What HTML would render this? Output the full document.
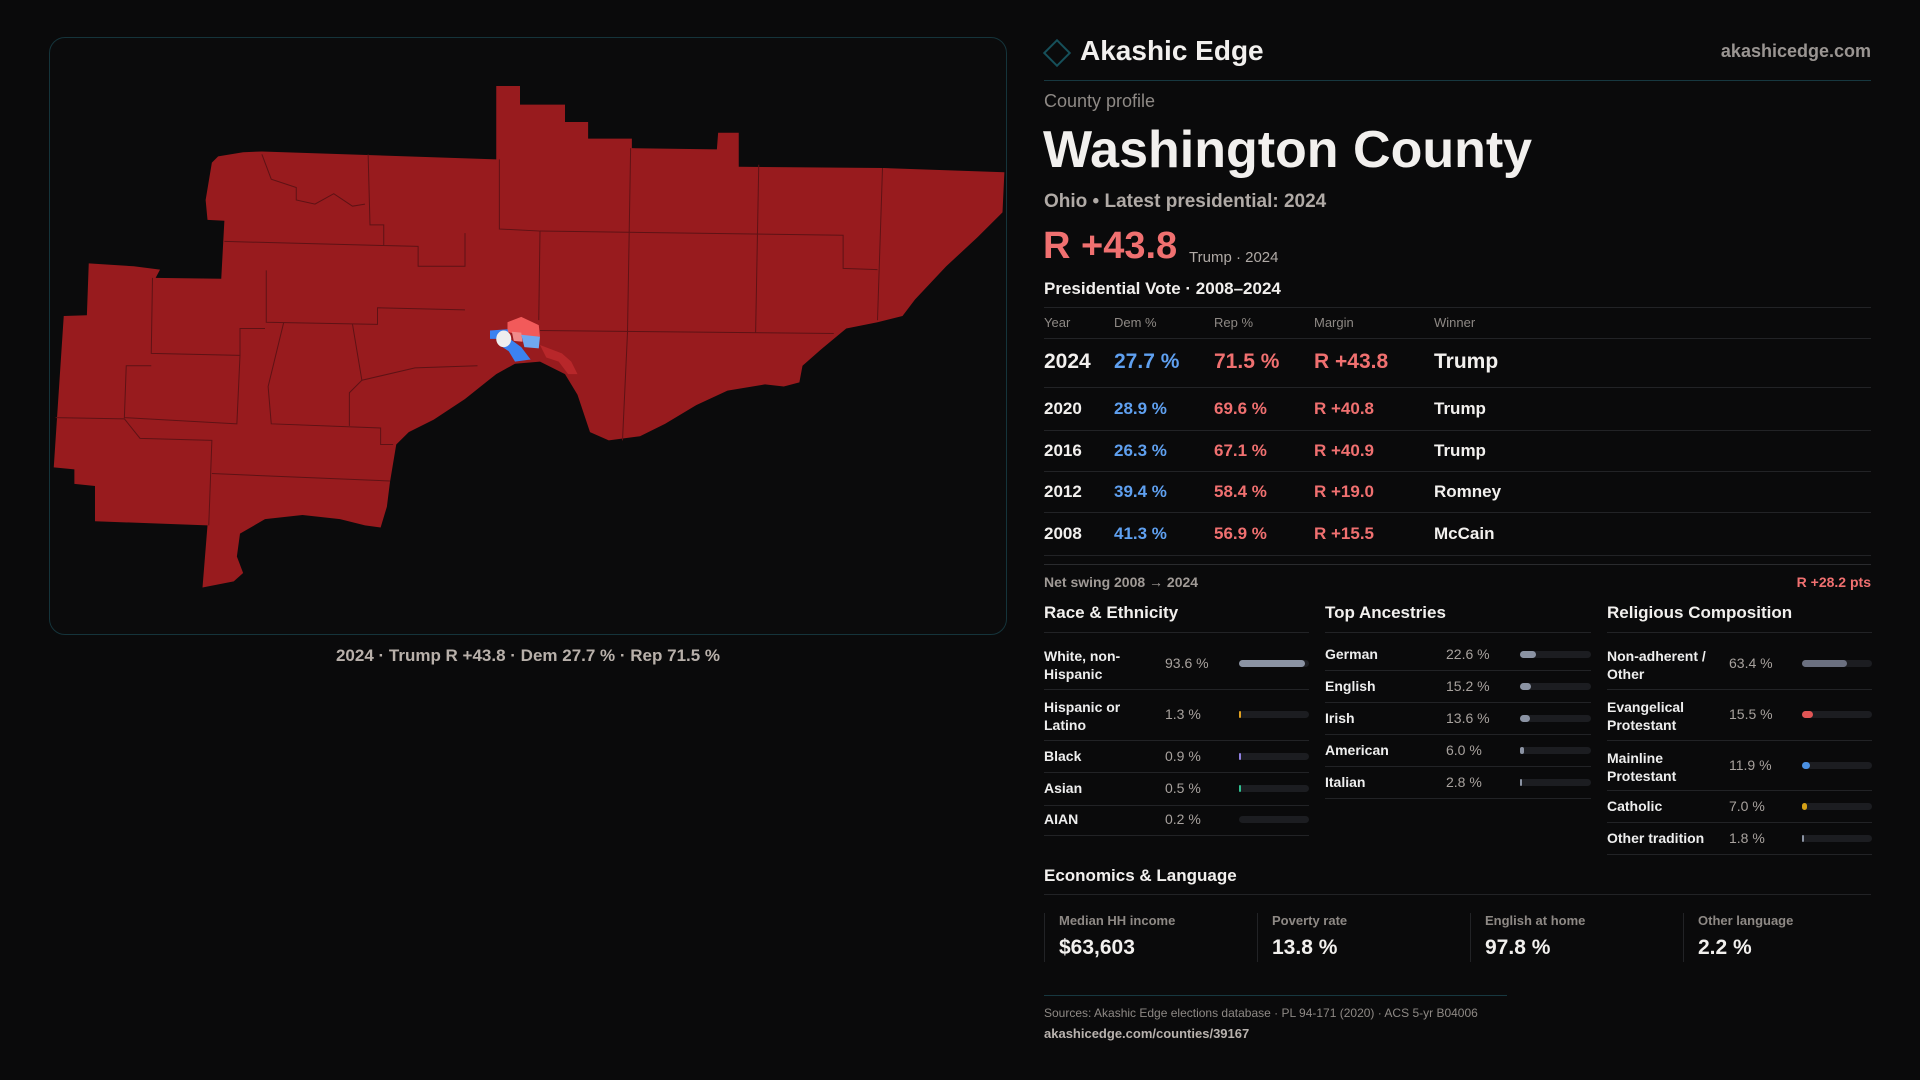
<!DOCTYPE html>
<html><head><meta charset="utf-8"><style>
*{margin:0;padding:0;box-sizing:border-box}
body{width:1920px;height:1080px;background:#0a0a0b;font-family:"Liberation Sans",sans-serif;color:#f2f0ee;position:relative;overflow:hidden}
.a{position:absolute;white-space:nowrap;line-height:1}
.ln{position:absolute;height:1px;background:#222326}
.g{color:#8e8985}
.b{color:#5fa0f0}.r{color:#f07070}
.bar{position:absolute;height:7px;border-radius:4px;background:#1c1d21}
.bar i{position:absolute;left:0;top:0;height:7px;border-radius:4px;display:block}
.lbl{font-size:14px;font-weight:bold;color:#eeeeee}
.val{font-size:14px;color:#a8a29e}
</style></head><body>
<div style="position:absolute;left:49px;top:37px;width:958px;height:598px;border:1px solid #15343b;border-radius:16px;background:#0b0b0c"></div>
<svg style="position:absolute;left:40px;top:30px" width="980" height="650" viewBox="0 0 1568 1568" preserveAspectRatio="none">
<path fill="#981b1e" d="M285,305 L325,295 L355,293 L730,312 L730,135 L768,135 L768,180 L840,180 L840,222 L877,222 L877,262 L947,262 L947,285 L1083,288 L1085,248 L1118,248 L1118,330 L1350,333 L1543,343 L1540,440 L1500,500 L1450,570 L1400,650 L1380,690 L1340,705 L1290,720 L1250,770 L1220,810 L1215,850 L1190,860 L1160,855 L1100,870 L1050,905 L1000,950 L960,980 L910,990 L880,970 L860,880 L840,830 L800,800 L760,805 L730,830 L680,890 L630,940 L590,970 L570,1000 L560,1090 L555,1150 L545,1200 L520,1195 L480,1180 L420,1170 L360,1180 L320,1215 L315,1270 L325,1310 L310,1330 L260,1345 L268,1195 L88,1185 L88,1100 L55,1095 L55,1060 L22,1055 L38,690 L75,688 L78,563 L150,570 L192,578 L185,598 L290,600 L295,460 L268,458 L265,410 L275,320 Z"/>
<g fill="none" stroke="#5e1215" stroke-width="1">
<path vector-effect="non-scaling-stroke" d="M525,300 L528,470 L550,470 L550,520 L605,522 L605,570 L680,570 L680,490"/>
<path vector-effect="non-scaling-stroke" d="M295,510 L550,520"/>
<path vector-effect="non-scaling-stroke" d="M735,312 L735,480 L800,485 L798,700"/>
<path vector-effect="non-scaling-stroke" d="M945,285 L940,730 L932,990"/>
<path vector-effect="non-scaling-stroke" d="M1150,325 L1145,730"/>
<path vector-effect="non-scaling-stroke" d="M1348,333 L1340,700"/>
<path vector-effect="non-scaling-stroke" d="M800,485 L1285,495 L1285,575 L1340,578"/>
<path vector-effect="non-scaling-stroke" d="M800,725 L1270,732"/>
<path vector-effect="non-scaling-stroke" d="M180,598 L178,780 L320,785 L315,950 L135,935 L138,810 L178,810"/>
<path vector-effect="non-scaling-stroke" d="M25,935 L135,938 L160,985 L275,990 L270,1195"/>
<path vector-effect="non-scaling-stroke" d="M362,580 L362,705 L540,710 L540,670 L680,675"/>
<path vector-effect="non-scaling-stroke" d="M390,705 L365,860 L370,950 L545,960 L545,1000 L565,1000"/>
<path vector-effect="non-scaling-stroke" d="M500,710 L515,845 L495,875 L495,955"/>
<path vector-effect="non-scaling-stroke" d="M275,1070 L560,1088"/>
<path vector-effect="non-scaling-stroke" d="M320,785 L320,720 L360,720"/>
<path vector-effect="non-scaling-stroke" d="M515,845 L600,815 L700,810"/>
<path vector-effect="non-scaling-stroke" d="M355,300 L370,360 L410,380 L410,410 L440,420 L470,395 L500,425 L520,420"/>
</g>
<path fill="#b8272a" d="M800,760 L835,780 L850,800 L860,830 L845,830 L830,800 L810,790 Z"/>
<path fill="#f25a5a" d="M748,705 L770,692 L798,712 L800,740 L770,738 L748,728 Z"/>
<path fill="#f08a8a" d="M755,728 L770,730 L772,752 L758,750 Z"/>
<path fill="#3b82f0" d="M720,725 L748,722 L752,745 L770,765 L785,795 L760,800 L750,775 L735,760 L730,745 L720,745 Z"/>
<path fill="#70a8f0" d="M770,735 L800,740 L798,768 L775,765 Z"/>
<ellipse cx="742" cy="745" rx="12" ry="20" fill="#eeeeee"/>
</svg>
<div class="a" style="left:0;width:1056px;text-align:center;top:647px;font-size:17px;color:#b8b0aa;font-weight:bold">2024 · Trump R +43.8 · Dem 27.7 % · Rep 71.5 %</div>

<div style="position:absolute;left:1047px;top:43px;width:20px;height:20px;border:2px solid #16505a;transform:rotate(45deg)"></div>
<div class="a" style="left:1080px;top:37px;font-size:28px;font-weight:bold">Akashic Edge</div>
<div class="a" style="right:49px;top:42px;font-size:18px;color:#9a9592;font-weight:bold">akashicedge.com</div>
<div class="ln" style="left:1044px;width:827px;top:80px;background:#173840"></div>
<div class="a g" style="left:1044px;top:92px;font-size:18px">County profile</div>
<div class="a" style="left:1043px;top:124px;font-size:52px;font-weight:bold">Washington County</div>
<div class="a" style="left:1044px;top:192px;font-size:19px;color:#b0aaa6;font-weight:bold">Ohio • Latest presidential: 2024</div>
<div class="a r" style="left:1043px;top:227px;font-size:38px;font-weight:bold;color:#f07070">R +43.8</div>
<div class="a" style="left:1189px;top:250px;font-size:15px;color:#b0aaa6">Trump · 2024</div>
<div class="a" style="left:1044px;top:280px;font-size:17px;font-weight:bold">Presidential Vote · 2008–2024</div>
<div class="ln" style="left:1044px;width:827px;top:307px"></div>
<div class="a g" style="left:1044px;top:316px;font-size:13px">Year</div>
<div class="a g" style="left:1114px;top:316px;font-size:13px">Dem %</div>
<div class="a g" style="left:1214px;top:316px;font-size:13px">Rep %</div>
<div class="a g" style="left:1314px;top:316px;font-size:13px">Margin</div>
<div class="a g" style="left:1434px;top:316px;font-size:13px">Winner</div>
<div class="ln" style="left:1044px;width:827px;top:338px"></div>
<div style="position:absolute;left:1044px;top:351px;font-size:21px;font-weight:bold">
<span class="a" style="left:0">2024</span><span class="a b" style="left:70px">27.7 %</span><span class="a r" style="left:170px">71.5 %</span><span class="a r" style="left:270px">R +43.8</span><span class="a" style="left:390px">Trump</span></div>
<div class="ln" style="left:1044px;width:827px;top:387px"></div>
<div style="position:absolute;left:1044px;top:400px;font-size:17px;font-weight:bold">
<span class="a" style="left:0">2020</span><span class="a b" style="left:70px">28.9 %</span><span class="a r" style="left:170px">69.6 %</span><span class="a r" style="left:270px">R +40.8</span><span class="a" style="left:390px">Trump</span></div>
<div class="ln" style="left:1044px;width:827px;top:430px"></div>
<div style="position:absolute;left:1044px;top:442px;font-size:17px;font-weight:bold">
<span class="a" style="left:0">2016</span><span class="a b" style="left:70px">26.3 %</span><span class="a r" style="left:170px">67.1 %</span><span class="a r" style="left:270px">R +40.9</span><span class="a" style="left:390px">Trump</span></div>
<div class="ln" style="left:1044px;width:827px;top:471px"></div>
<div style="position:absolute;left:1044px;top:483px;font-size:17px;font-weight:bold">
<span class="a" style="left:0">2012</span><span class="a b" style="left:70px">39.4 %</span><span class="a r" style="left:170px">58.4 %</span><span class="a r" style="left:270px">R +19.0</span><span class="a" style="left:390px">Romney</span></div>
<div class="ln" style="left:1044px;width:827px;top:512px"></div>
<div style="position:absolute;left:1044px;top:525px;font-size:17px;font-weight:bold">
<span class="a" style="left:0">2008</span><span class="a b" style="left:70px">41.3 %</span><span class="a r" style="left:170px">56.9 %</span><span class="a r" style="left:270px">R +15.5</span><span class="a" style="left:390px">McCain</span></div>
<div class="ln" style="left:1044px;width:827px;top:555px"></div>
<div class="ln" style="left:1044px;width:827px;top:564px;background:#2a2b2e"></div>
<div class="a" style="left:1044px;top:575px;font-size:14px;color:#a09a96;font-weight:bold">Net swing 2008 → 2024</div>
<div class="a r" style="right:49px;top:575px;font-size:14px;font-weight:bold">R +28.2 pts</div>

<div class="a" style="left:1044px;top:604px;font-size:17px;font-weight:bold">Race &amp; Ethnicity</div>
<div class="a" style="left:1325px;top:604px;font-size:17px;font-weight:bold">Top Ancestries</div>
<div class="a" style="left:1607px;top:604px;font-size:17px;font-weight:bold">Religious Composition</div>
<div class="ln" style="left:1044px;width:265px;top:632px"></div>
<div class="ln" style="left:1325px;width:266px;top:632px"></div>
<div class="ln" style="left:1607px;width:265px;top:632px"></div>

<div class="a lbl" style="left:1044px;top:647px;line-height:18px">White, non-<br>Hispanic</div><div class="a val" style="left:1165px;top:656px">93.6 %</div><div class="bar" style="left:1239px;top:660px;width:70px"><i style="width:66px;background:#8b93a3"></i></div>
<div class="ln" style="left:1044px;width:265px;top:689px"></div>
<div class="a lbl" style="left:1044px;top:698px;line-height:18px">Hispanic or<br>Latino</div><div class="a val" style="left:1165px;top:707px">1.3 %</div><div class="bar" style="left:1239px;top:711px;width:70px"><i style="width:2px;background:#e0a020"></i></div>
<div class="ln" style="left:1044px;width:265px;top:740px"></div>
<div class="a lbl" style="left:1044px;top:749px">Black</div><div class="a val" style="left:1165px;top:749px">0.9 %</div><div class="bar" style="left:1239px;top:753px;width:70px"><i style="width:2px;background:#9080e0"></i></div>
<div class="ln" style="left:1044px;width:265px;top:772px"></div>
<div class="a lbl" style="left:1044px;top:781px">Asian</div><div class="a val" style="left:1165px;top:781px">0.5 %</div><div class="bar" style="left:1239px;top:785px;width:70px"><i style="width:2px;background:#30c090"></i></div>
<div class="ln" style="left:1044px;width:265px;top:805px"></div>
<div class="a lbl" style="left:1044px;top:812px">AIAN</div><div class="a val" style="left:1165px;top:812px">0.2 %</div><div class="bar" style="left:1239px;top:816px;width:70px"></div>
<div class="ln" style="left:1044px;width:265px;top:835px"></div>

<div class="a lbl" style="left:1325px;top:647px">German</div><div class="a val" style="left:1446px;top:647px">22.6 %</div><div class="bar" style="left:1520px;top:651px;width:71px"><i style="width:16px;background:#8b93a3"></i></div>
<div class="ln" style="left:1325px;width:266px;top:670px"></div>
<div class="a lbl" style="left:1325px;top:679px">English</div><div class="a val" style="left:1446px;top:679px">15.2 %</div><div class="bar" style="left:1520px;top:683px;width:71px"><i style="width:11px;background:#8b93a3"></i></div>
<div class="ln" style="left:1325px;width:266px;top:702px"></div>
<div class="a lbl" style="left:1325px;top:711px">Irish</div><div class="a val" style="left:1446px;top:711px">13.6 %</div><div class="bar" style="left:1520px;top:715px;width:71px"><i style="width:10px;background:#8b93a3"></i></div>
<div class="ln" style="left:1325px;width:266px;top:734px"></div>
<div class="a lbl" style="left:1325px;top:743px">American</div><div class="a val" style="left:1446px;top:743px">6.0 %</div><div class="bar" style="left:1520px;top:747px;width:71px"><i style="width:4px;background:#8b93a3"></i></div>
<div class="ln" style="left:1325px;width:266px;top:766px"></div>
<div class="a lbl" style="left:1325px;top:775px">Italian</div><div class="a val" style="left:1446px;top:775px">2.8 %</div><div class="bar" style="left:1520px;top:779px;width:71px"><i style="width:2px;background:#8b93a3"></i></div>
<div class="ln" style="left:1325px;width:266px;top:798px"></div>

<div class="a lbl" style="left:1607px;top:647px;line-height:18px">Non-adherent /<br>Other</div><div class="a val" style="left:1729px;top:656px">63.4 %</div><div class="bar" style="left:1802px;top:660px;width:70px"><i style="width:45px;background:#6b7080"></i></div>
<div class="ln" style="left:1607px;width:265px;top:689px"></div>
<div class="a lbl" style="left:1607px;top:698px;line-height:18px">Evangelical<br>Protestant</div><div class="a val" style="left:1729px;top:707px">15.5 %</div><div class="bar" style="left:1802px;top:711px;width:70px"><i style="width:11px;background:#e05555"></i></div>
<div class="ln" style="left:1607px;width:265px;top:740px"></div>
<div class="a lbl" style="left:1607px;top:749px;line-height:18px">Mainline<br>Protestant</div><div class="a val" style="left:1729px;top:758px">11.9 %</div><div class="bar" style="left:1802px;top:762px;width:70px"><i style="width:8px;background:#4a90e2"></i></div>
<div class="ln" style="left:1607px;width:265px;top:790px"></div>
<div class="a lbl" style="left:1607px;top:799px">Catholic</div><div class="a val" style="left:1729px;top:799px">7.0 %</div><div class="bar" style="left:1802px;top:803px;width:70px"><i style="width:5px;background:#d4a017"></i></div>
<div class="ln" style="left:1607px;width:265px;top:822px"></div>
<div class="a lbl" style="left:1607px;top:831px">Other tradition</div><div class="a val" style="left:1729px;top:831px">1.8 %</div><div class="bar" style="left:1802px;top:835px;width:70px"><i style="width:2px;background:#8b93a3"></i></div>
<div class="ln" style="left:1607px;width:265px;top:854px"></div>

<div class="a" style="left:1044px;top:867px;font-size:17px;font-weight:bold">Economics &amp; Language</div>
<div class="ln" style="left:1044px;width:827px;top:894px"></div>
<div style="position:absolute;left:1044px;top:913px;width:1px;height:49px;background:#222326"></div>
<div style="position:absolute;left:1257px;top:913px;width:1px;height:49px;background:#222326"></div>
<div style="position:absolute;left:1470px;top:913px;width:1px;height:49px;background:#222326"></div>
<div style="position:absolute;left:1683px;top:913px;width:1px;height:49px;background:#222326"></div>
<div class="a g" style="left:1059px;top:914px;font-size:13px;font-weight:bold">Median HH income</div>
<div class="a g" style="left:1272px;top:914px;font-size:13px;font-weight:bold">Poverty rate</div>
<div class="a g" style="left:1485px;top:914px;font-size:13px;font-weight:bold">English at home</div>
<div class="a g" style="left:1698px;top:914px;font-size:13px;font-weight:bold">Other language</div>
<div class="a" style="left:1059px;top:937px;font-size:21px;font-weight:bold">$63,603</div>
<div class="a" style="left:1272px;top:937px;font-size:21px;font-weight:bold">13.8 %</div>
<div class="a" style="left:1485px;top:937px;font-size:21px;font-weight:bold">97.8 %</div>
<div class="a" style="left:1698px;top:937px;font-size:21px;font-weight:bold">2.2 %</div>
<div class="ln" style="left:1044px;width:463px;top:995px;background:#173840"></div>
<div class="a" style="left:1044px;top:1007px;font-size:12px;color:#8e8985">Sources: Akashic Edge elections database · PL 94-171 (2020) · ACS 5-yr B04006</div>
<div class="a" style="left:1044px;top:1027px;font-size:13px;color:#b8b2ae;font-weight:bold">akashicedge.com/counties/39167</div>
</body></html>
